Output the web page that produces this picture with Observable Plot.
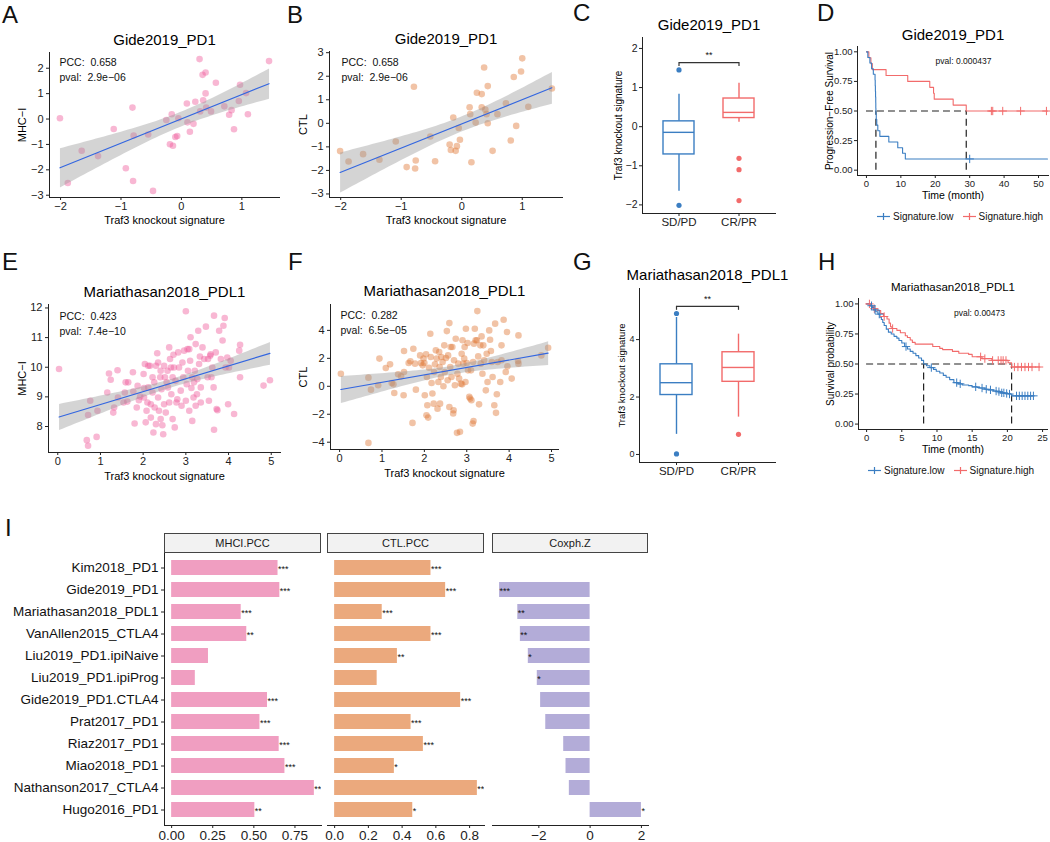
<!DOCTYPE html>
<html><head><meta charset="utf-8">
<script src="https://cdn.jsdelivr.net/npm/d3@7"></script>
<script src="https://cdn.jsdelivr.net/npm/@observablehq/plot@0.6"></script>
<style>
body{margin:0;background:#fff;font-family:"Liberation Sans",Arial,Helvetica,sans-serif;}
#root{position:relative;width:1050px;height:842px;overflow:hidden;background:#fff;}
.letter{position:absolute;font-size:24px;line-height:1;color:#111;}
.strip{position:absolute;box-sizing:border-box;border:1px solid #444;background:#f2f2f2;font-size:11px;text-align:center;line-height:18px;color:#1a1a1a;height:20px;}
.legend{position:absolute;font-size:10px;line-height:12px;color:#111;white-space:nowrap;}
.legend svg{vertical-align:-1px;margin-right:3px;}
.legend span{margin-right:9px;}
</style></head>
<body><div id="root"></div>
<script>
// ---------------- DATA ----------------
// Panel A: Gide2019_PD1, Traf3 signature vs MHC-I
const gideMHC = [[-2.01,0.03],[-1.88,-2.52],[-1.65,-1.25],[-1.38,-1.46],[-1.12,-0.39],[-0.92,-1.94],[-0.81,0.45],[-0.80,-2.44],[-0.79,-0.65],[-0.55,-0.61],[-0.47,-2.83],[-0.25,-0.04],[-0.19,-0.99],[-0.16,0.19],[-0.14,-1.05],[-0.10,-0.71],[-0.07,-0.67],[-0.05,0.03],[0.09,0.61],[0.10,-0.13],[0.14,-0.50],[0.20,-0.19],[0.23,0.68],[0.30,2.36],[0.31,0.30],[0.35,1.74],[0.36,0.74],[0.40,1.83],[0.40,1.01],[0.41,0.45],[0.49,0.30],[0.57,1.43],[0.71,0.50],[0.79,0.17],[0.83,0.35],[0.87,-0.40],[0.95,0.71],[0.97,1.35],[1.07,1.02],[1.10,0.19],[1.45,2.28]];
// Panel B: Gide2019_PD1, Traf3 signature vs CTL
const gideCTL = [[-2.01,-1.18],[-1.87,-1.62],[-1.63,-1.31],[-1.36,-1.55],[-1.09,-0.77],[-0.91,-1.86],[-0.79,1.55],[-0.77,-1.92],[-0.76,-1.58],[-0.52,-0.56],[-0.44,-1.61],[-0.20,-0.90],[-0.18,-1.13],[-0.14,0.25],[-0.10,-1.17],[-0.08,-0.97],[-0.05,-0.20],[-0.03,-0.70],[0.13,0.68],[0.14,0.39],[0.16,-1.65],[0.23,0.03],[0.25,1.30],[0.33,1.24],[0.33,0.68],[0.37,2.37],[0.39,0.58],[0.41,0.39],[0.43,0.00],[0.43,1.58],[0.51,-1.17],[0.59,0.39],[0.73,0.85],[0.81,-0.73],[0.86,1.97],[0.90,-0.11],[0.98,2.20],[1.00,2.76],[1.10,0.70],[1.49,1.48]];
// Panel E: Mariathasan2018_PDL1, Traf3 signature vs MHC-I
const marMHC = [[0.03,9.94],[0.68,7.54],[0.71,7.35],[0.91,7.65],[0.93,8.53],[0.71,8.39],[0.76,8.87],[1.16,9.15],[1.20,9.79],[1.24,9.58],[1.30,8.47],[1.32,8.64],[1.40,9.90],[1.41,8.98],[1.54,8.81],[1.57,9.15],[1.59,9.49],[1.63,8.84],[1.65,9.49],[1.77,9.18],[1.76,9.83],[1.80,8.10],[1.85,8.64],[1.87,9.37],[1.90,8.89],[1.93,9.01],[2.02,8.98],[2.04,10.11],[2.02,9.30],[2.01,9.77],[2.06,8.14],[2.08,8.53],[2.10,8.81],[2.12,10.05],[2.12,9.32],[2.16,10.05],[2.18,8.75],[2.18,8.30],[2.22,9.66],[2.22,9.15],[2.24,7.80],[2.26,9.49],[2.27,8.64],[2.30,10.05],[2.30,8.08],[2.33,10.47],[2.35,10.16],[2.35,8.98],[2.37,8.53],[2.40,9.66],[2.41,9.88],[2.41,8.25],[2.43,9.26],[2.45,8.04],[2.47,7.74],[2.49,10.05],[2.49,8.75],[2.51,9.66],[2.53,8.47],[2.55,9.49],[2.57,9.88],[2.58,9.32],[2.61,10.67],[2.61,8.81],[2.63,10.28],[2.65,9.99],[2.66,9.09],[2.69,9.66],[2.69,8.25],[2.71,10.42],[2.72,9.99],[2.74,7.97],[2.76,9.54],[2.78,8.81],[2.80,8.92],[2.82,10.50],[2.84,9.99],[2.88,9.21],[2.90,8.70],[2.92,10.16],[2.94,9.66],[2.96,10.56],[3.00,11.89],[3.00,8.87],[3.02,9.43],[3.04,10.61],[3.05,9.88],[3.08,8.53],[3.08,10.61],[3.10,10.22],[3.11,11.01],[3.13,9.30],[3.15,9.66],[3.15,8.19],[3.18,8.98],[3.19,9.49],[3.21,9.88],[3.23,10.78],[3.23,8.70],[3.26,9.09],[3.27,9.60],[3.29,11.23],[3.31,10.11],[3.33,10.36],[3.35,9.32],[3.35,8.81],[3.39,10.67],[3.43,10.28],[3.47,11.37],[3.51,9.66],[3.52,10.28],[3.54,8.87],[3.57,10.39],[3.58,10.44],[3.60,9.66],[3.62,9.99],[3.65,9.32],[3.66,11.74],[3.66,7.89],[3.70,10.50],[3.72,8.59],[3.74,8.55],[3.78,11.23],[3.82,10.28],[3.86,10.90],[3.88,11.40],[3.91,11.66],[3.93,9.99],[3.97,10.33],[3.99,8.75],[4.01,9.99],[4.05,10.22],[4.13,8.42],[4.25,10.56],[4.27,10.76],[4.27,9.66],[4.82,9.38],[4.97,9.56]];
// Panel F: Mariathasan2018_PDL1, Traf3 signature vs CTL
const marCTL = [[0.03,0.90],[0.68,-4.05],[0.68,0.62],[0.74,-0.24],[0.91,0.07],[0.94,1.98],[1.09,1.31],[1.19,1.57],[1.23,0.24],[1.27,0.14],[1.29,-0.48],[1.38,0.86],[1.45,0.71],[1.51,-0.64],[1.52,2.52],[1.52,1.02],[1.63,1.67],[1.67,1.79],[1.72,-2.62],[1.74,2.69],[1.78,1.62],[1.80,-0.24],[1.90,2.21],[1.92,1.67],[1.96,1.50],[1.98,1.98],[2.00,1.67],[2.01,-0.64],[2.04,2.29],[2.05,-2.07],[2.06,0.67],[2.07,-1.36],[2.09,-2.24],[2.11,1.33],[2.14,3.76],[2.15,2.10],[2.17,0.24],[2.19,-0.52],[2.22,-1.24],[2.23,1.02],[2.25,1.57],[2.27,2.57],[2.29,1.98],[2.31,-1.60],[2.33,0.31],[2.35,2.45],[2.36,1.38],[2.37,-1.24],[2.39,0.67],[2.40,2.10],[2.43,1.74],[2.45,0.00],[2.47,2.93],[2.48,1.02],[2.51,2.02],[2.53,3.95],[2.55,0.43],[2.56,2.21],[2.59,4.52],[2.59,-1.48],[2.61,1.38],[2.62,2.81],[2.64,0.67],[2.66,2.81],[2.68,-1.95],[2.69,-1.71],[2.70,1.86],[2.72,0.07],[2.74,3.40],[2.77,-3.33],[2.78,0.90],[2.80,1.62],[2.82,0.55],[2.84,-3.26],[2.86,0.19],[2.88,2.33],[2.89,0.14],[2.90,3.29],[2.92,1.62],[2.94,1.98],[2.95,2.81],[2.97,0.31],[2.98,4.12],[3.00,1.67],[3.02,3.10],[3.03,1.14],[3.06,-0.76],[3.08,-0.88],[3.10,1.14],[3.11,-1.00],[3.14,-2.67],[3.15,1.74],[3.16,-2.48],[3.17,3.05],[3.19,4.12],[3.21,3.29],[3.24,3.29],[3.25,5.38],[3.27,2.14],[3.29,-1.29],[3.32,2.93],[3.33,1.62],[3.35,3.57],[3.37,0.90],[3.39,2.93],[3.41,1.86],[3.45,-0.29],[3.47,2.33],[3.49,0.31],[3.53,4.00],[3.55,3.33],[3.57,2.52],[3.59,1.74],[3.61,0.67],[3.65,-1.36],[3.67,4.48],[3.69,-1.90],[3.71,-0.57],[3.73,1.74],[3.79,0.31],[3.82,2.93],[3.82,1.86],[3.87,4.76],[3.92,1.02],[3.95,3.88],[3.96,1.43],[4.06,0.55],[4.22,1.62],[4.22,3.64],[4.21,1.81],[4.76,2.21],[4.92,2.76]];
const statsGideMHC = {pcc:"0.658", pval:"2.9e\u221206"};
const statsGideCTL = {pcc:"0.658", pval:"2.9e\u221206"};
const statsMarMHC = {pcc:"0.423", pval:"7.4e\u221210"};
const statsMarCTL = {pcc:"0.282", pval:"6.5e\u221205"};

// Box plots (C, G)
const responseGroups = ["SD/PD", "CR/PR"];
const boxGide = {lo:[-1.65,0.11], q1:[-0.71,0.22], med:[-0.145,0.365], q3:[0.136,0.72], hi:[0.83,1.11]};
const boxGideOutCat = ["SD/PD","SD/PD","CR/PR","CR/PR","CR/PR"];
const boxGideOutVal = [1.45,-2.01,-0.81,-1.10,-1.89];
const sigGide = {y:1.64, drop:0.1, labelY:1.83, label:"**"};
const boxMar = {lo:[0.70,1.30], q1:[2.07,2.53], med:[2.50,3.03], q3:[3.14,3.56], hi:[4.77,4.19]};
const boxMarOutCat = ["SD/PD","SD/PD","CR/PR"];
const boxMarOutVal = [4.91,0.02,0.70];
const sigMar = {y:5.16, drop:0.14, labelY:5.42, label:"**"};

// KM curves (D, H): [time, survival]
const kmGroups = ["Signature.low","Signature.high"];
const kmGideLow = [[0,1],[0.4,0.952],[1.0,0.905],[1.5,0.857],[2.0,0.81],[2.5,0.762],[2.55,0.714],[2.6,0.667],[2.65,0.619],[2.7,0.571],[2.72,0.524],[2.75,0.476],[2.85,0.429],[3.0,0.381],[3.3,0.333],[3.9,0.286],[6.5,0.238],[9.1,0.19],[10.5,0.143],[11.3,0.095],[52.6,0.095]];
const kmGideHigh = [[0,1],[0.7,0.95],[1.3,0.9],[1.7,0.85],[5.7,0.8],[12.0,0.75],[18.4,0.7],[19.5,0.65],[19.7,0.6],[25.2,0.55],[29.0,0.5],[52.6,0.5]];
const censGideLow = [30.0];
const censGideHigh = [36.3,36.7,39.6,44.8,52.3];
const kmMarLow = [[0,1],[0.5,0.985],[0.8,0.97],[1.0,0.95],[1.3,0.935],[1.6,0.915],[1.9,0.89],[2.1,0.87],[2.3,0.845],[2.5,0.82],[2.8,0.79],[3.1,0.765],[3.5,0.75],[3.9,0.73],[4.3,0.715],[4.6,0.695],[5.0,0.675],[5.4,0.645],[5.8,0.625],[6.2,0.605],[6.6,0.59],[7.0,0.57],[7.4,0.55],[7.8,0.53],[8.1,0.5],[8.5,0.485],[9.0,0.47],[9.5,0.455],[9.9,0.44],[10.4,0.425],[10.9,0.405],[11.3,0.39],[11.8,0.37],[12.4,0.345],[13.0,0.335],[13.6,0.325],[14.5,0.32],[15.0,0.31],[15.7,0.305],[16.1,0.30],[16.8,0.29],[17.3,0.285],[18.0,0.275],[18.5,0.27],[19.0,0.26],[19.6,0.255],[20.2,0.25],[20.6,0.235],[23.7,0.235]];
const kmMarHigh = [[0,1],[0.6,0.98],[1.0,0.96],[1.5,0.945],[2.0,0.92],[2.4,0.895],[2.9,0.875],[3.2,0.84],[3.4,0.81],[3.6,0.795],[4.3,0.78],[4.8,0.76],[5.5,0.735],[5.8,0.72],[6.2,0.70],[6.5,0.68],[6.9,0.665],[9.4,0.645],[10.4,0.63],[10.8,0.62],[12.2,0.605],[13.1,0.59],[14.5,0.58],[15.0,0.56],[16.4,0.545],[17.8,0.53],[20.1,0.51],[20.6,0.475],[24.6,0.475]];
const censMarLow = [0.7,1.2,1.8,5.6,9.2,12.8,13.3,15.5,16.4,17.0,17.6,18.4,18.8,19.2,19.5,19.9,20.3,21.3,21.7,22.1,22.5,22.9,23.3,23.7];
const censMarHigh = [0.4,1.1,2.5,3.7,16.2,16.8,17.9,18.7,19.1,19.4,19.8,21.0,21.5,22.0,22.5,23.0,23.5,24.5];
const pvalGide = "pval: 0.000437";
const pvalMar = "pval: 0.00473";

// Panel I
const datasets = ["Kim2018_PD1","Gide2019_PD1","Mariathasan2018_PDL1","VanAllen2015_CTLA4","Liu2019_PD1.ipiNaive","Liu2019_PD1.ipiProg","Gide2019_PD1.CTLA4","Prat2017_PD1","Riaz2017_PD1","Miao2018_PD1","Nathanson2017_CTLA4","Hugo2016_PD1"];
const facetNames = ["MHCI.PCC","CTL.PCC","Coxph.Z"];
const mhciPCC = [0.647,0.658,0.423,0.457,0.224,0.144,0.583,0.537,0.654,0.689,0.868,0.506];
const mhciStar = ["***","***","***","**","","","***","***","***","***","**","**"];
const ctlPCC = [0.571,0.658,0.282,0.571,0.372,0.252,0.747,0.453,0.526,0.354,0.846,0.463];
const ctlStar = ["***","***","***","***","**","","***","***","***","*","**","*"];
const coxZ = [null,-3.53,-2.82,-2.72,-2.41,-2.06,-1.93,-1.73,-1.03,-0.94,-0.81,2.0];
const coxStar = ["","***","**","**","*","*","","","","","","*"];

// ---------------- RENDER ----------------
const FONT = '"Liberation Sans", Arial, Helvetica, sans-serif';
const BLUE = "#3b7ec2", RED = "#f26b6b";
const AX = "#222";
const root = document.getElementById("root");
function put(node, left, top){ node.style.position="absolute"; node.style.left=left+"px"; node.style.top=top+"px"; root.appendChild(node); return node; }
function geom(left, top, width, height, fx0, fx1, fy0, fy1){
  return {width, height, marginLeft: fx0-left, marginRight: left+width-fx1, marginTop: fy0-top, marginBottom: top+height-fy1};
}
function st(fs){ return {background:"none", fontFamily:FONT, fontSize: fs+"px", color:"#222", overflow:"visible"}; }
function expand(vals, f=0.05){ const [a,b]=d3.extent(vals); const p=(b-a)*f; return [a-p,b+p]; }
const T = d => d;
const MID = {textAnchor:"middle", lineAnchor:"middle"};

function scatter({data, pos, color, opacity, title, ylab, stats, xTicks, yTicks, yDomain, t}){
  const rows = data.map(([x,y])=>({x,y}));
  const xd = expand(rows.map(d=>d.x)), yd = yDomain || expand(rows.map(d=>d.y));
  const p = Plot.plot({
    ...geom(...pos), style: st(11),
    x:{domain:xd}, y:{domain:yd},
    marks:[
      Plot.dot(rows, {x:"x", y:"y", r:3.3, fill:color, fillOpacity:opacity}),
      Plot.linearRegressionY(rows, {x:"x", y:"y", stroke:"#3366e0", strokeWidth:1.1, fill:"#999", fillOpacity:0.42}),
      Plot.frame({anchor:"left", stroke:AX}),
      Plot.frame({anchor:"bottom", stroke:AX}),
      Plot.axisX(xTicks, {tickSize:3, tickPadding:2, fontSize:11, label:null, fill:"#222"}),
      Plot.axisY(yTicks, {tickSize:3, tickPadding:3, fontSize:11, label:null, fill:"#222"}),
      Plot.text([title], {...MID, text:T, frameAnchor:"top", dy:t.title, fontSize:15, fill:"#000"}),
      Plot.text(["Traf3 knockout signature"], {...MID, text:T, frameAnchor:"bottom", dy:t.xlab, fontSize:11, fill:"#000"}),
      Plot.text([ylab], {...MID, text:T, frameAnchor:"left", dx:t.ylab, rotate:-90, fontSize:11, fill:"#000"}),
      Plot.text(["PCC:\u00a0 " + stats.pcc], {text:T, frameAnchor:"top-left", textAnchor:"start", lineAnchor:"middle", dx:t.sx, dy:t.sy, fontSize:10.5, fill:"#111"}),
      Plot.text(["pval:\u00a0 " + stats.pval], {text:T, frameAnchor:"top-left", textAnchor:"start", lineAnchor:"middle", dx:t.sx, dy:t.sy+15, fontSize:10.5, fill:"#111"})
    ]
  });
  put(p, pos[0], pos[1]);
}

function boxPanel({box, outCat, outVal, sig, pos, yDomain, yTicks, title, t, yFs, xFs, ylabFs}){
  const rows = responseGroups.map((cat,i)=>({cat, lo:box.lo[i], q1:box.q1[i], med:box.med[i], q3:box.q3[i], hi:box.hi[i]}));
  const outs = outCat.map((c,i)=>({cat:c, v:outVal[i]}));
  const sw = 1.4;
  const p = Plot.plot({
    ...geom(...pos), style: st(yFs),
    x:{type:"band", domain:responseGroups, paddingInner:0.49, paddingOuter:0.336},
    y:{domain:yDomain},
    color:{domain:responseGroups, range:[BLUE, RED]},
    marks:[
      Plot.ruleX(rows, {x:"cat", y1:"lo", y2:"q1", stroke:"cat", strokeWidth:sw}),
      Plot.ruleX(rows, {x:"cat", y1:"q3", y2:"hi", stroke:"cat", strokeWidth:sw}),
      Plot.barY(rows, {x:"cat", y1:"q1", y2:"q3", fill:"white", stroke:"cat", strokeWidth:sw}),
      Plot.tickY(rows, {x:"cat", y:"med", stroke:"cat", strokeWidth:sw}),
      Plot.dot(outs, {x:"cat", y:"v", fill:"cat", r:2.6}),
      Plot.link([sig], {x1:()=>responseGroups[0], x2:()=>responseGroups[1], y1:d=>d.y, y2:d=>d.y, stroke:"#333", strokeWidth:1.2}),
      Plot.ruleX(responseGroups, {y1:sig.y, y2:sig.y-sig.drop, stroke:"#333", strokeWidth:1.2}),
      Plot.text([sig], {y:d=>d.labelY, text:d=>d.label, fontSize:9, fill:"#111"}),
      Plot.frame({anchor:"left", stroke:AX}),
      Plot.frame({anchor:"bottom", stroke:AX}),
      Plot.axisX({tickSize:3, tickPadding:1, fontSize:xFs, label:null, fill:"#222"}),
      Plot.axisY(yTicks, {tickSize:3, tickPadding:2, fontSize:yFs, label:null, fill:"#222"}),
      Plot.text([title], {...MID, text:T, frameAnchor:"top", dy:t.title, fontSize:15, fill:"#000"}),
      Plot.text(["Traf3 knockout signature"], {...MID, text:T, frameAnchor:"left", dx:t.ylab, rotate:-90, fontSize:ylabFs, fill:"#000"})
    ]
  });
  put(p, pos[0], pos[1]);
}

function survAt(curve, t){ let s = curve[0][1]; for (const [ti,si] of curve){ if (ti <= t) s = si; else break; } return s; }
function medianOf(curve){ const p = curve.find(([t,s]) => s <= 0.5); return p ? p[0] : null; }

function kmPanel({low, high, censLow, censHigh, pos, xDomain, xTicks, title, titleFs, ylab, pval, t}){
  const L = low.map(([t,s])=>({t,s})), H = high.map(([t,s])=>({t,s}));
  const cL = censLow.map(x=>({t:x, s:survAt(low,x)})), cH = censHigh.map(x=>({t:x, s:survAt(high,x)}));
  const meds = [medianOf(low), medianOf(high)].filter(m=>m!=null);
  const dash = "7,4";
  const p = Plot.plot({
    ...geom(...pos), style: st(9.5),
    x:{domain:xDomain}, y:{domain:[-0.045,1.045]},
    marks:[
      Plot.ruleY([0.5], {x1:0, x2:d3.max(meds), stroke:"#222", strokeWidth:1.2, strokeDasharray:dash}),
      Plot.ruleX(meds, {y1:0, y2:0.5, stroke:"#222", strokeWidth:1.2, strokeDasharray:dash}),
      Plot.line(H, {x:"t", y:"s", curve:"step-after", stroke:RED, strokeWidth:1.1}),
      Plot.line(L, {x:"t", y:"s", curve:"step-after", stroke:BLUE, strokeWidth:1.1}),
      Plot.dot(cH, {x:"t", y:"s", symbol:"plus", r:2.8, stroke:RED, strokeWidth:1}),
      Plot.dot(cL, {x:"t", y:"s", symbol:"plus", r:2.8, stroke:BLUE, strokeWidth:1}),
      Plot.frame({anchor:"left", stroke:AX}),
      Plot.frame({anchor:"bottom", stroke:AX}),
      Plot.axisX(xTicks, {tickSize:3, tickPadding:1.5, fontSize:9.5, label:null, fill:"#222"}),
      Plot.axisY([0,0.25,0.5,0.75,1], {tickFormat:d3.format(".2f"), tickSize:3, tickPadding:2, fontSize:9.5, label:null, fill:"#222"}),
      Plot.text([title], {...MID, text:T, frameAnchor:"top", dy:t.title, fontSize:titleFs, fill:"#000"}),
      Plot.text(["Time (month)"], {...MID, text:T, frameAnchor:"bottom", dy:t.xlab, fontSize:10.5, fill:"#000"}),
      Plot.text([ylab], {...MID, text:T, frameAnchor:"left", dx:t.ylab, rotate:-90, fontSize:10, fill:"#000"}),
      Plot.text([pval], {...MID, text:T, frameAnchor:"top-right", dx:t.px, dy:t.py, fontSize:8.5, fill:"#111"})
    ]
  });
  put(p, pos[0], pos[1]);
}

function legend(left, top){
  const g = c => `<svg width="13" height="9"><line x1="0" y1="4.5" x2="13" y2="4.5" stroke="${c}" stroke-width="1.2"/><line x1="6.5" y1="1" x2="6.5" y2="8" stroke="${c}" stroke-width="1.2"/></svg>`;
  const d = document.createElement("div"); d.className="legend";
  d.innerHTML = `${g(BLUE)}<span>${kmGroups[0]}</span>${g(RED)}<span>${kmGroups[1]}</span>`;
  put(d, left, top);
}

function barPanel({values, stars, color, pos, ticks, tickFormat, showY}){
  const rows = datasets.map((name,i)=>({name, v:values[i], star:stars[i]})).filter(d=>d.v!=null);
  const xd = expand([0, ...rows.map(d=>d.v)]);
  const yopt = {type:"band", domain:datasets, paddingInner:0.3, paddingOuter:0.25};
  if (!showY) yopt.axis = null;
  const marks = [
    Plot.barX(rows, {x1:0, x2:"v", y:"name", fill:color}),
    Plot.text(rows, {x:"v", y:"name", text:"star", textAnchor:"start", fontSize:9, dy:1, clip:true, fill:"#111"}),
    Plot.frame({anchor:"bottom", stroke:AX}),
    Plot.axisX(ticks, {tickFormat, tickSize:3, tickPadding:2, fontSize:13.5, label:null, fill:"#222"})
  ];
  if (showY){
    marks.push(Plot.frame({anchor:"left", stroke:AX}));
    marks.push(Plot.axisY({tickSize:3, tickPadding:3, fontSize:13.5, label:null, fill:"#111"}));
  }
  const p = Plot.plot({...geom(...pos), style: st(13.5), x:{domain:xd}, y:yopt, marks});
  put(p, pos[0], pos[1]);
}

// ---- Panels ----
scatter({data:gideMHC, pos:[0,28,285,212, 49,279,52,197], color:"#f0609e", opacity:0.45,
  title:"Gide2019_PD1", ylab:"MHC\u2212I", stats:statsGideMHC, xTicks:[-2,-1,0,1], yTicks:[-3,-2,-1,0,1,2],
  t:{title:-12, xlab:23, ylab:-27, sx:10, sy:10}});
scatter({data:gideCTL, pos:[288,28,277,212, 329,562,51,197], color:"#e07b39", opacity:0.45,
  title:"Gide2019_PD1", ylab:"CTL", stats:statsGideCTL, xTicks:[-2,-1,0,1], yTicks:[-3,-2,-1,0,1,2,3], yDomain:[-3.15,3.05],
  t:{title:-12, xlab:23, ylab:-26, sx:12, sy:11}});
scatter({data:marMHC, pos:[0,282,286,212, 48,280,304,452], color:"#f0609e", opacity:0.45,
  title:"Mariathasan2018_PDL1", ylab:"MHC\u2212I", stats:statsMarMHC, xTicks:[0,1,2,3,4,5], yTicks:[8,9,10,11,12],
  t:{title:-12, xlab:24, ylab:-26, sx:11, sy:12}});
scatter({data:marCTL, pos:[288,282,276,212, 330,558,304,449], color:"#e07b39", opacity:0.45,
  title:"Mariathasan2018_PDL1", ylab:"CTL", stats:statsMarCTL, xTicks:[0,1,2,3,4,5], yTicks:[-4,-2,0,2,4],
  t:{title:-13, xlab:24, ylab:-27, sx:10, sy:11}});

boxPanel({box:boxGide, outCat:boxGideOutCat, outVal:boxGideOutVal, sig:sigGide, pos:[600,0,180,235, 642,775,37,213],
  yDomain:[-2.22,2.28], yTicks:[-2,-1,0,1,2], title:"Gide2019_PD1", t:{title:-12, ylab:-24}, yFs:10.5, xFs:11.5, ylabFs:10});
boxPanel({box:boxMar, outCat:boxMarOutCat, outVal:boxMarOutVal, sig:sigMar, pos:[600,258,180,230, 639,775,288,462],
  yDomain:[-0.28,5.78], yTicks:[0,2,4], title:"Mariathasan2018_PDL1", t:{title:-13, ylab:-18}, yFs:9, xFs:11.5, ylabFs:9.5});

kmPanel({low:kmGideLow, high:kmGideHigh, censLow:censGideLow, censHigh:censGideHigh, pos:[800,0,250,200, 857,1048,46,175],
  xDomain:[-2.6,52.9], xTicks:[0,10,20,30,40,50], title:"Gide2019_PD1", titleFs:15, ylab:"Progression\u2212Free Survival", pval:pvalGide,
  t:{title:-11, xlab:20.5, ylab:-28, px:-85, py:15}});
kmPanel({low:kmMarLow, high:kmMarHigh, censLow:censMarLow, censHigh:censMarHigh, pos:[800,262,250,200, 858,1047,298,429],
  xDomain:[-1.15,25.7], xTicks:[0,5,10,15,20,25], title:"Mariathasan2018_PDL1", titleFs:11.5, ylab:"Survival probability", pval:pvalMar,
  t:{title:-11, xlab:20, ylab:-28, px:-68, py:15}});
legend(877, 211);
legend(868, 465);

barPanel({values:mhciPCC, stars:mhciStar, color:"#f09ec1", pos:[0,553,324,289, 164,321,553,825], ticks:[0,0.25,0.5,0.75], tickFormat:d3.format(".2f"), showY:true});
barPanel({values:ctlPCC, stars:ctlStar, color:"#eba97d", pos:[322,553,166,289, 327,484,553,825], ticks:[0,0.2,0.4,0.6,0.8], tickFormat:d3.format(".1f"), showY:false});
barPanel({values:coxZ, stars:coxStar, color:"#b3acd8", pos:[488,553,166,289, 492,648,553,825], ticks:[-2,0,2], tickFormat:undefined, showY:false});

// strips
[[164,157],[327,157],[492,156]].forEach(([l,w],i)=>{
  const d = document.createElement("div"); d.className="strip"; d.style.width=w+"px"; d.textContent = facetNames[i]; put(d, l, 533);
});

// panel letters
[["A",2,3],["B",287,3],["C",573,1],["D",817,1],["E",2,250],["F",288,250],["G",573,250],["H",818,250],["I",5,516]].forEach(([s,l,t])=>{
  const d = document.createElement("div"); d.className="letter"; d.textContent=s; put(d,l,t);
});
</script>
</body></html>
